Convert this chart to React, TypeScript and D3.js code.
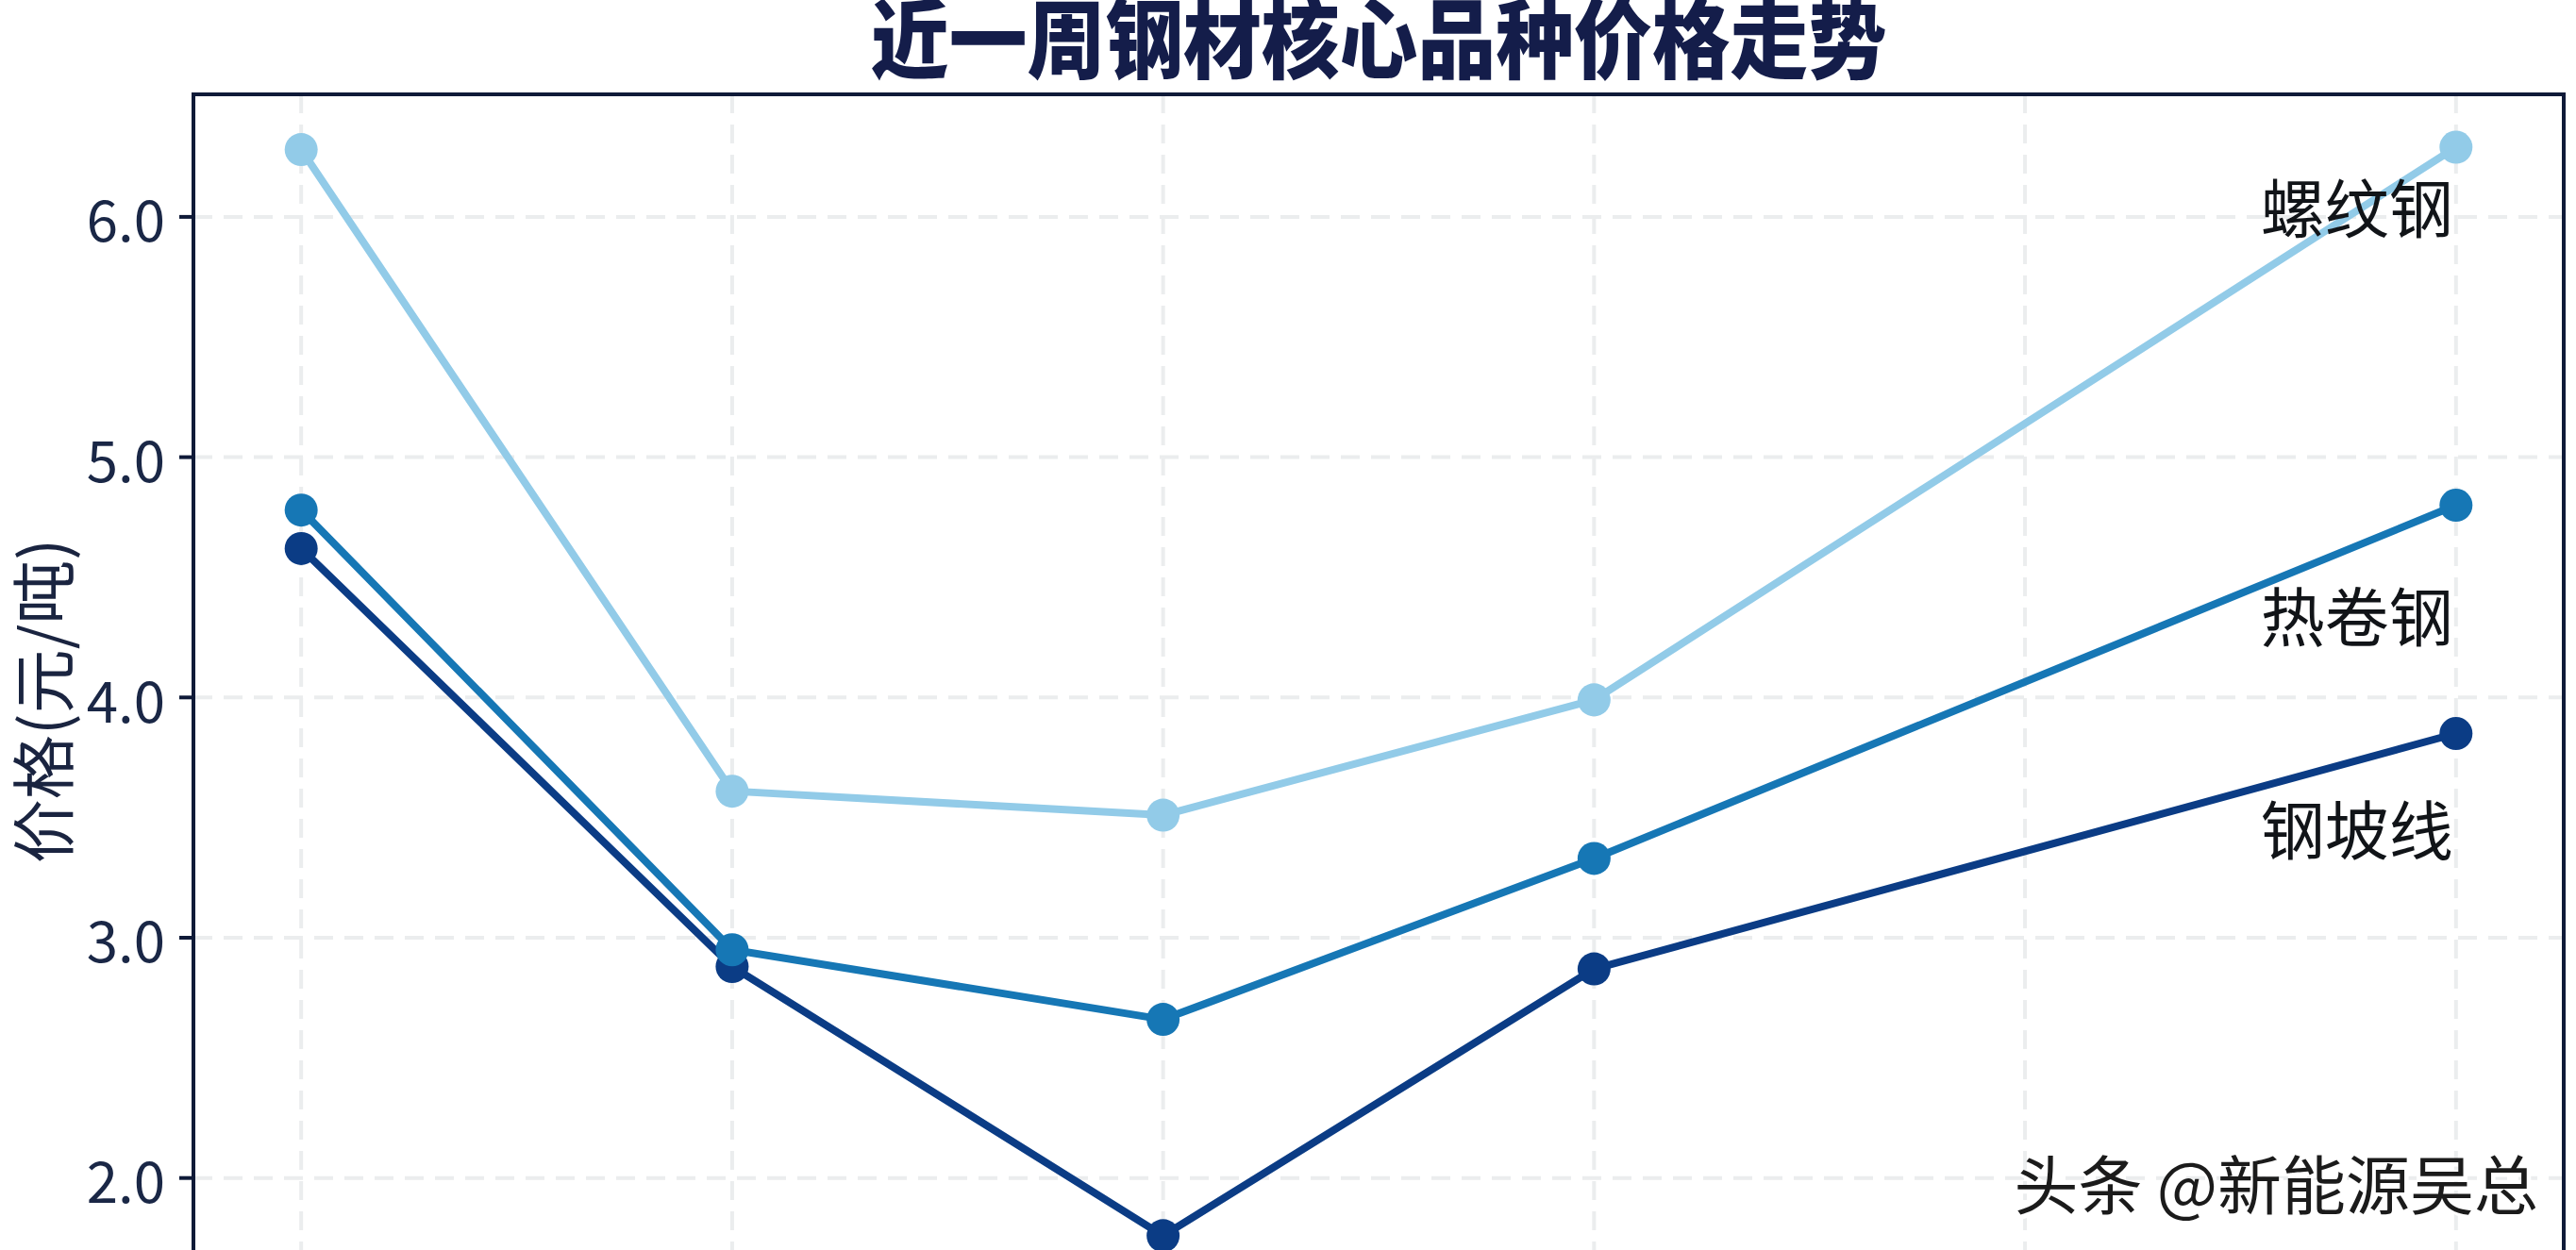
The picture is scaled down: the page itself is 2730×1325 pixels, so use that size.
import React from 'react';
import * as d3 from 'd3';

const title = '近一周钢材核心品种价格走势';
const yAxisLabel = '价格(元/吨)';
const watermark = '头条 @新能源吴总';
const gridDays = [0, 1, 2, 3, 4, 5];
const pointDays = [0, 1, 2, 3, 5];
const yTicks = [2, 3, 4, 5, 6];
const seriesNames = ['螺纹钢', '热卷钢', '钢坡线'];
const rebarValues = [6.28, 3.61, 3.51, 3.99, 6.29];
const hotRolledValues = [4.78, 2.95, 2.66, 3.33, 4.8];
const wireValues = [4.62, 2.88, 1.76, 2.87, 3.85];
const labelValues = [6.05, 4.35, 3.46];
const seriesColors = ['#92cbe8', '#1677b5', '#0b3c85'];

const W = 2730;
const H = 1325;
const left = 205;
const right = 2717;
const top = 100;
const unit = 254.7;
const yMin = 1.0;
const yMax = 6.51;

export default function App() {
  const x = d3.scaleLinear().domain([-0.25, 5.25]).range([left, right]);
  const y = d3.scaleLinear().domain([yMin, yMax]).range([top + (yMax - yMin) * unit, top]);
  const series = [
    { name: seriesNames[0], values: rebarValues, color: seriesColors[0], label: labelValues[0] },
    { name: seriesNames[1], values: hotRolledValues, color: seriesColors[1], label: labelValues[1] },
    { name: seriesNames[2], values: wireValues, color: seriesColors[2], label: labelValues[2] },
  ];
  const line = d3
    .line<number>()
    .x((_, i) => x(pointDays[i]))
    .y((d) => y(d));
  const drawOrder = [2, 1, 0];
  const bottom = y(yMin);
  const cjk = '"Noto Sans CJK SC", "Noto Sans", sans-serif';
  const titleX = (left + right) / 2;

  return (
    <div style={{ position: 'absolute', left: 0, top: 0, width: W, height: H, overflow: 'hidden' }}>
      <svg width={W} height={H} style={{ display: 'block' }}>
        <rect x={0} y={0} width={W} height={H} fill="#ffffff" />
        {/* grid */}
        {gridDays.map((d) => (
          <line
            key={'vg' + d}
            x1={x(d)}
            x2={x(d)}
            y1={top}
            y2={bottom}
            stroke="#ebedee"
            strokeWidth={4}
            strokeDasharray="20 12"
          />
        ))}
        {yTicks.map((t) => (
          <line
            key={'hg' + t}
            x1={left}
            x2={right}
            y1={y(t)}
            y2={y(t)}
            stroke="#ebedee"
            strokeWidth={4}
            strokeDasharray="20 12"
          />
        ))}
        {/* series */}
        {drawOrder.map((si) => {
          const s = series[si];
          return (
            <g key={s.name}>
              <path
                d={line(s.values) || ''}
                fill="none"
                stroke={s.color}
                strokeWidth={8}
                strokeLinejoin="round"
                strokeLinecap="round"
              />
              {s.values.map((v, i) => (
                <circle key={i} cx={x(pointDays[i])} cy={y(v)} r={17.5} fill={s.color} />
              ))}
            </g>
          );
        })}
        {/* series labels */}
        {series.map((s) => (
          <text
            key={'lbl' + s.name}
            x={x(5) - 3}
            y={y(s.label)}
            textAnchor="end"
            dominantBaseline="central"
            fontFamily={cjk}
            fontSize={68}
            fill="#111418"
          >
            {s.name}
          </text>
        ))}
        {/* frame */}
        <line x1={left} x2={right} y1={top} y2={top} stroke="#0f1a38" strokeWidth={4} />
        <line x1={left} x2={left} y1={top - 2} y2={bottom} stroke="#0f1a38" strokeWidth={4} />
        <line x1={right} x2={right} y1={top - 2} y2={bottom} stroke="#0f1a38" strokeWidth={4} />
        {/* y ticks */}
        {yTicks.map((t) => (
          <g key={'yt' + t}>
            <line x1={left - 15} x2={left} y1={y(t)} y2={y(t)} stroke="#0f1a38" strokeWidth={4} />
            <text
              x={left - 30}
              y={y(t)}
              textAnchor="end"
              dominantBaseline="central"
              fontFamily={cjk}
              fontSize={60}
              fill="#1a2746"
            >
              {t.toFixed(1)}
            </text>
          </g>
        ))}
        {/* y axis label */}
        <text
          transform={`translate(42, 743) rotate(-90)`}
          textAnchor="middle"
          dominantBaseline="central"
          fontFamily={cjk}
          fontSize={68}
          fill="#1a2440"
        >
          {yAxisLabel}
        </text>
        {/* title */}
        <text
          transform={`translate(${titleX}, 76) scale(0.9, 1)`}
          textAnchor="middle"
          fontFamily={cjk}
          fontSize={92}
          fontWeight={900}
          fill="#141d4a"
        >
          {title}
        </text>
        {/* watermark */}
        <text
          x={2690}
          y={1252}
          textAnchor="end"
          dominantBaseline="central"
          fontFamily={cjk}
          fontSize={68}
          fill="#ffffff"
          stroke="#ffffff"
          strokeWidth={3}
          transform="translate(3,3)"
        >
          {watermark}
        </text>
        <text
          x={2690}
          y={1252}
          textAnchor="end"
          dominantBaseline="central"
          fontFamily={cjk}
          fontSize={68}
          fill="#1b1b1b"
        >
          {watermark}
        </text>
      </svg>
    </div>
  );
}
